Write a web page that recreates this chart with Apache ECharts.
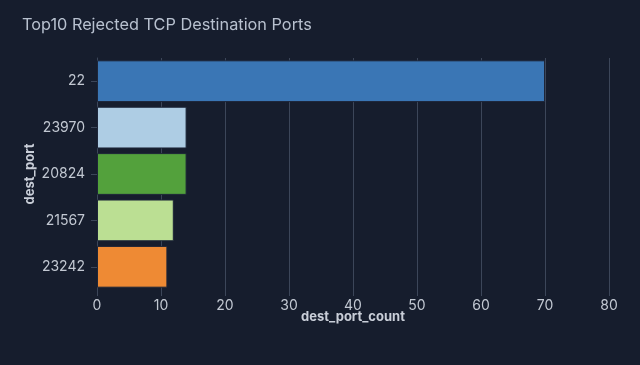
<!DOCTYPE html>
<html><head><meta charset="utf-8">
<script src="https://cdn.jsdelivr.net/npm/echarts@6/dist/echarts.min.js"></script>
<style>html,body{margin:0;padding:0;background:#161d2d;}#c{width:640px;height:365px;}</style>
</head><body><div id="c"></div>
<script>
const ports = ["22", "23970", "20824", "21567", "23242"];
const counts = [70, 14, 14, 12, 11];
const colors = ["#3a76b5", "#aecde4", "#53a13c", "#bbdf93", "#ee8a34"];
const xTicks = [0, 10, 20, 30, 40, 50, 60, 70, 80];

const chart = echarts.init(document.getElementById('c'), null, {renderer: 'canvas'});
chart.setOption({
  backgroundColor: '#161d2d',
  animation: false,
  title: {
    text: 'Top10 Rejected TCP Destination Ports',
    left: 17, top: 12,
    textStyle: {color: '#b8c1cf', fontSize: 16.3, fontWeight: 'normal', fontFamily: 'Inter, Lato, sans-serif'}
  },
  grid: {left: 97, right: 31, top: 58, bottom: 75},
  xAxis: {
    type: 'value', min: xTicks[0], max: xTicks[xTicks.length - 1], interval: 10,
    name: 'dest_port_count', nameLocation: 'middle', nameGap: 21, nameMoveOverlap: false,
    nameTextStyle: {color: '#c9ced8', fontSize: 13, fontWeight: 'bold', fontFamily: 'Inter, sans-serif'},
    axisLine: {show: false},
    axisTick: {show: true, length: 6, lineStyle: {color: '#3c4659'}},
    axisLabel: {color: '#c2c8d2', fontSize: 14, margin: 9, fontFamily: 'Inter, sans-serif'},
    splitLine: {show: true, lineStyle: {color: '#3c4659', width: 1}}
  },
  yAxis: {
    type: 'category', data: ports, inverse: true,
    name: 'dest_port', nameLocation: 'middle', nameGap: 60, nameMoveOverlap: false,
    nameTextStyle: {color: '#c9ced8', fontSize: 13, fontWeight: 'bold', fontFamily: 'Inter, sans-serif'},
    axisLine: {show: true, lineStyle: {color: '#3c4659'}},
    axisTick: {show: true, alignWithLabel: true, length: 6, lineStyle: {color: '#3c4659'}},
    axisLabel: {color: '#c2c8d2', fontSize: 14, margin: 12, fontFamily: 'Inter, sans-serif'}
  },
  series: [{
    type: 'bar',
    data: counts.map((v, i) => ({value: v, itemStyle: {color: colors[i]}})),
    barCategoryGap: '10%',
    itemStyle: {borderColor: '#1d2538', borderWidth: 1}
  }]
});
</script></body></html>
